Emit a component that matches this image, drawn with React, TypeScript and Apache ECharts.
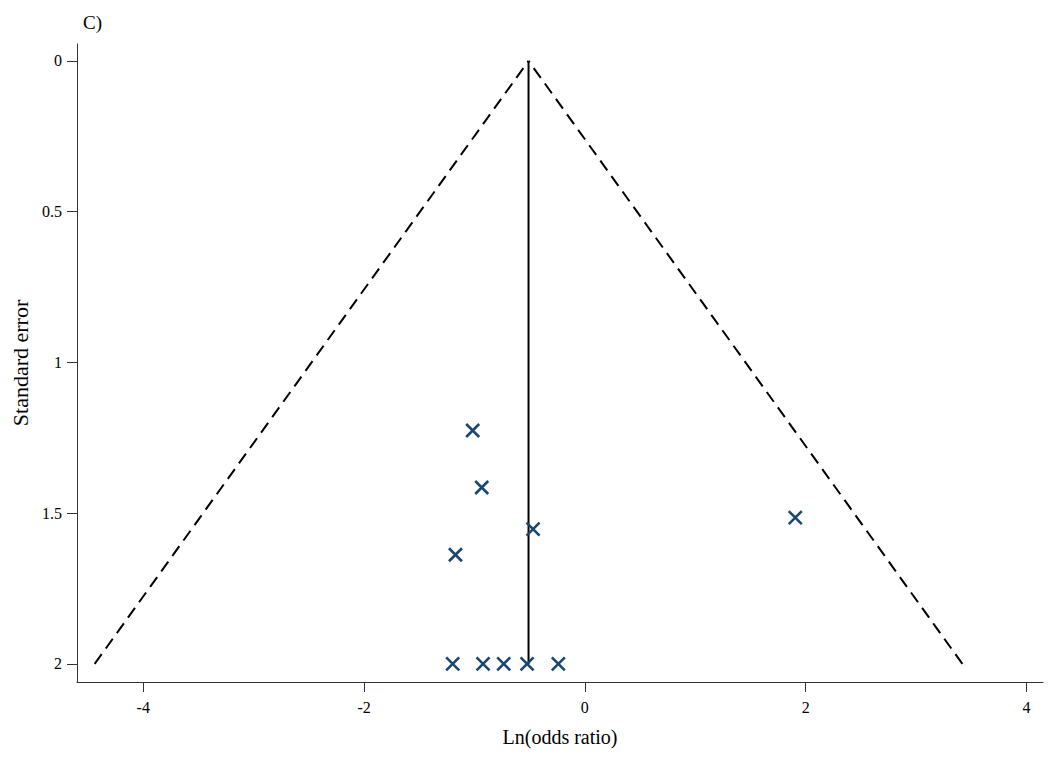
import React, { useEffect, useRef } from "react";
import * as echarts from "echarts";

const studyLnOR = [-1.016, -0.934, -0.469, -1.172, 1.906, -1.197, -0.922, -0.735, -0.523, -0.24];
const studySE = [1.226, 1.415, 1.553, 1.638, 1.515, 2.0, 2.0, 2.0, 2.0, 2.0];

const pooledLine = [[-0.51, 0], [-0.51, 2]];
const leftLimit = [[-4.44, 2], [-0.51, 0]];
const rightLimit = [[3.42, 2], [-0.51, 0]];

const xTicks = [-4, -2, 0, 2, 4];
const yTicks = [0, 0.5, 1, 1.5, 2];

const FONT = "'Liberation Serif', 'DejaVu Serif', serif";

export default function App() {
  const ref = useRef<HTMLDivElement>(null);
  useEffect(() => {
    if (!ref.current) return;
    const chart = echarts.init(ref.current, null, { renderer: "svg" });
    chart.setOption({
      animation: false,
      backgroundColor: "#fff",
      title: {
        text: "C)",
        left: 70,
        top: 0,
        textStyle: { fontFamily: FONT, fontSize: 19, fontWeight: "normal", color: "#000" },
      },
      grid: { left: 69, right: 10, top: 36, bottom: 82, containLabel: false, outerBoundsMode: "none" },
      xAxis: {
        type: "value",
        min: -4.6,
        max: 4.15,
        name: "Ln(odds ratio)",
        nameLocation: "middle",
        nameGap: 45,
        nameTextStyle: { fontFamily: FONT, fontSize: 20, color: "#000" },
        axisLine: { show: true, onZero: false, lineStyle: { color: "#333", width: 1 } },
        axisTick: { show: true, length: 10, customValues: xTicks, lineStyle: { color: "#333" } },
        axisLabel: { customValues: xTicks, fontFamily: FONT, fontSize: 16, color: "#000", margin: 17 },
        splitLine: { show: false },
      },
      yAxis: {
        type: "value",
        inverse: true,
        min: -0.056,
        max: 2.06,
        name: "Standard error",
        nameLocation: "middle",
        nameGap: 44,
        nameRotate: 90,
        nameTextStyle: { fontFamily: FONT, fontSize: 22, color: "#000" },
        axisLine: { show: true, onZero: false, lineStyle: { color: "#333", width: 1 } },
        axisTick: { show: true, length: 10, customValues: yTicks, lineStyle: { color: "#333" } },
        axisLabel: { customValues: yTicks, fontFamily: FONT, fontSize: 16, color: "#000", margin: 15 },
        splitLine: { show: false },
      },
      series: [
        {
          type: "line",
          data: leftLimit,
          symbol: "none",
          lineStyle: { color: "#000", width: 2, type: [12, 7] },
          silent: true,
        },
        {
          type: "line",
          data: rightLimit,
          symbol: "none",
          lineStyle: { color: "#000", width: 2, type: [12, 7] },
          silent: true,
        },
        {
          type: "line",
          data: pooledLine,
          symbol: "none",
          lineStyle: { color: "#000", width: 2 },
          silent: true,
        },
        {
          type: "scatter",
          data: studyLnOR.map((x, i) => [x, studySE[i]]),
          symbol: "path://M0,0L10,10M10,0L0,10",
          symbolSize: 13,
          itemStyle: { color: "transparent", borderColor: "#1a476f", borderWidth: 2.6, opacity: 1 },
          z: 5,
        },
      ],
    });
    return () => chart.dispose();
  }, []);
  return <div ref={ref} style={{ width: 1045, height: 756 }} />;
}
